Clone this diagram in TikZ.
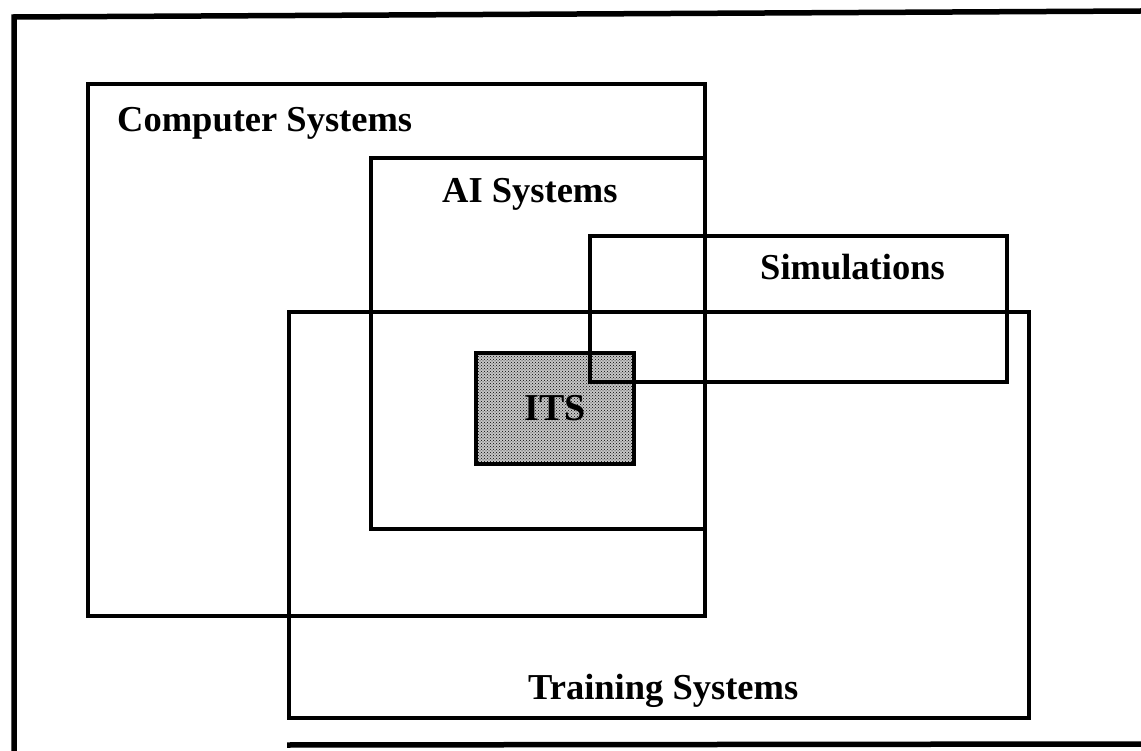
\documentclass[tikz,border=0pt]{standalone}
\usepackage{fontspec}
\setmainfont{Liberation Serif}
\usepackage{tikz}
\usetikzlibrary{positioning,patterns}

\tikzset{
  setbox/.style={draw, line width=3.5pt, inner sep=0pt, outer sep=0pt, anchor=north west},
  setlabel/.style={anchor=base west, inner sep=0pt, font=\fontsize{36.5}{40}\selectfont\bfseries},
  itsbox/.style={setbox, preaction={fill=gray!45}, pattern=crosshatch dots, pattern color=black,
    font=\fontsize{38}{40}\selectfont\bfseries}
}

\begin{document}
\begin{tikzpicture}[x=1pt, y=-1pt]
\useasboundingbox (0,0) rectangle (1141,751);

% Rahmen
\draw[line width=5.5pt] (14,751) -- (14,17) -- (1141,11);
\draw[line width=5.5pt] (287,745) -- (1141,744);

% Mengen
\node[setbox, minimum width=617pt, minimum height=532pt] (cs) at (88,84) {};
\node[setbox, minimum width=334pt, minimum height=371pt] (ai) at (371,158) {};
\node[setbox, minimum width=740pt, minimum height=406pt] (ts) at (289,312) {};

% ITS
\node[itsbox, minimum width=158pt, minimum height=111pt] (its) at (476,353) {ITS};

% Simulationen (liegt über ITS)
\node[setbox, minimum width=417pt, minimum height=146pt] (sim) at (590,236) {};

% Beschriftungen
\node[setlabel] (cslabel) at (117,132) {Computer Systems};
\node[setlabel] (ailabel) at (442,203) {AI Systems};
\node[setlabel] (simlabel) at (760,280) {Simulations};
\node[setlabel] (tslabel) at (528,699) {Training Systems};
\end{tikzpicture}
\end{document}
